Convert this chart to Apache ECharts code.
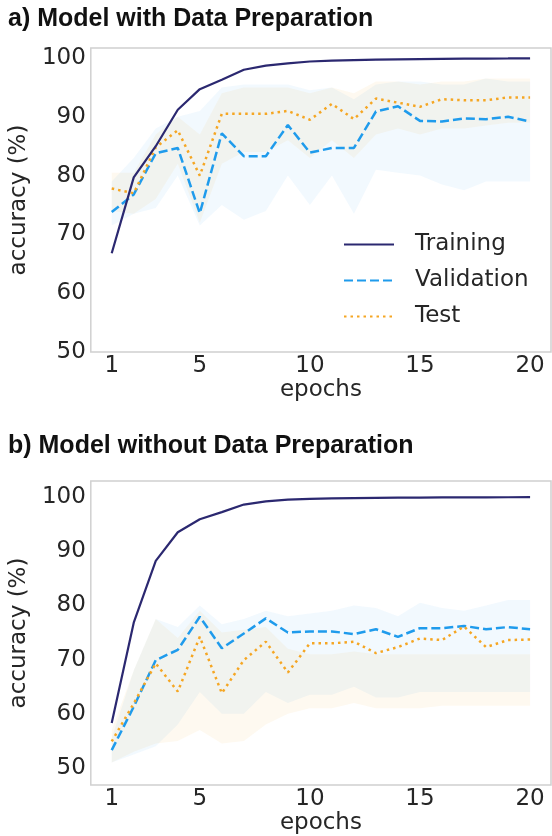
<!DOCTYPE html>
<html><head><meta charset="utf-8">
<script src="https://cdn.jsdelivr.net/npm/echarts@6/dist/echarts.min.js"></script>
<style>html,body{margin:0;padding:0;background:#fff}#c{width:552px;height:836px}</style>
</head><body><div id="c"></div>
<script>
const epochs = [1,2,3,4,5,6,7,8,9,10,11,12,13,14,15,16,17,18,19,20];
const xTicks = [1,5,10,15,20];
const yTicks = [50,60,70,80,90,100];

// Panel a) with data preparation
const trainA = [66.8,79.7,85.0,91.2,94.7,96.3,98.0,98.7,99.1,99.4,99.55,99.65,99.72,99.78,99.82,99.85,99.88,99.9,99.92,99.95];
const valA   = [73.8,76.8,83.8,84.7,73.6,87.2,83.3,83.3,88.6,83.9,84.7,84.7,90.9,91.8,89.3,89.2,89.7,89.6,90.0,89.2];
const testA  = [77.8,77.0,84.8,87.7,80.0,90.5,90.5,90.5,91.0,89.5,92.2,89.6,93.1,92.4,91.7,93.0,92.8,92.8,93.3,93.3];
const valALow  = [71.5,73.5,74.5,80,71.5,75,72.5,74,80,75,80,73.5,81,80.5,80,78.5,77.5,79,79,79];
const valAHigh = [79,83,88,90,91,95,95.5,95.5,95.5,94.5,95,93,95.5,96,96,95.5,95.5,96.5,96,96];
const testALow  = [74,73.5,76,82,72,82,84,84,86,83,86,83,87,88,87,88,88,88.5,89,89];
const testAHigh = [80.5,80.5,87,90,87,94,95,95,95,94,95,94,96,96,95.5,96,96,96.5,96.5,96.5];

// Panel b) without data preparation
const trainB = [58.3,76.8,88.2,93.5,95.9,97.2,98.6,99.2,99.5,99.65,99.75,99.8,99.85,99.88,99.9,99.92,99.93,99.94,99.95,99.96];
const valB   = [53.3,61.3,69.9,71.8,77.9,72.1,74.8,77.6,75.0,75.2,75.2,74.7,75.6,74.2,75.8,75.8,76.2,75.6,76.0,75.6];
const testB  = [54.9,61.9,69.3,64.1,74.2,63.8,69.9,73.3,67.6,73.0,73.0,73.3,71.2,72.3,73.9,73.6,76.1,72.3,73.6,73.7];
const valBLow  = [51,52.5,54,58,64,60,60,64,62,63.5,63.5,65,63,63,64,64,64,64,64,64];
const valBHigh = [55.5,68,77.5,76,80,76.5,77.5,79,78,78.5,79,80,79.5,78,80.5,79.5,79,80,81,81];
const testBLow  = [51,53,54.5,55,57,54.5,55,58,60,61,61,62,61,61,61,61.5,61.5,61.5,61.5,61.5];
const testBHigh = [57,68,77.5,74,79,75,75.5,76,72,71,71,71.5,71,71,71,71,71,71,71,71];

const C_TRAIN = '#2b2870', C_VAL = '#1f9bec', C_TEST = '#f5a623';
const pairs = ys => epochs.map((e,i) => [e, ys[i]]);
const tickFont = {fontFamily:'DejaVu Sans', fontSize:23, color:'#262626'};

function band(idx, lo, hi, color) {
  return {type:'custom', xAxisIndex:idx, yAxisIndex:idx, silent:true, z:1,
    data: epochs.map((e,i) => [e, lo[i], hi[i]]),
    encode:{x:0, y:[1,2]},
    renderItem: function(params, api) {
      if (params.dataIndex !== 0) return null;
      const pts = [];
      for (let i = 0; i < epochs.length; i++) pts.push(api.coord([epochs[i], hi[i]]));
      for (let i = epochs.length - 1; i >= 0; i--) pts.push(api.coord([epochs[i], lo[i]]));
      return {type:'polygon', shape:{points:pts}, style:{fill:color}};
    }};
}
function lines(idx, tr, va, te) {
  return [
    {type:'line', name:'Training', xAxisIndex:idx, yAxisIndex:idx, data:pairs(tr), symbol:'none',
     lineStyle:{color:C_TRAIN, width:2.2}, itemStyle:{color:C_TRAIN}, z:5},
    {type:'line', name:'Validation', xAxisIndex:idx, yAxisIndex:idx, data:pairs(va), symbol:'none',
     lineStyle:{color:C_VAL, width:2.5, type:[9,4]}, itemStyle:{color:C_VAL}, z:4},
    {type:'line', name:'Test', xAxisIndex:idx, yAxisIndex:idx, data:pairs(te), symbol:'none',
     lineStyle:{color:C_TEST, width:2.5, type:[2.5,4]}, itemStyle:{color:C_TEST}, z:4}
  ];
}
function xAxis(idx) {
  return {type:'value', gridIndex:idx, min:0.05, max:20.95,
    axisLine:{show:false}, axisTick:{show:false}, splitLine:{show:false},
    axisLabel:Object.assign({customValues:xTicks, margin:3}, tickFont),
    name:'epochs', nameLocation:'middle', nameGap:24, nameTextStyle:tickFont};
}
function yAxis(idx, mn, mx) {
  return {type:'value', gridIndex:idx, min:mn, max:mx,
    axisLine:{show:false}, axisTick:{show:false}, splitLine:{show:false},
    axisLabel:Object.assign({customValues:yTicks, margin:5}, tickFont),
    name:'accuracy (%)', nameLocation:'middle', nameGap:52, nameTextStyle:tickFont};
}

const BLUE_BAND = 'rgba(30,150,240,0.06)', ORANGE_BAND = 'rgba(245,166,35,0.065)';
const chart = echarts.init(document.getElementById('c'), null, {renderer:'canvas'});
chart.setOption({
  animation:false,
  backgroundColor:'#fff',
  title:[
    {text:'a) Model with Data Preparation', left:8, top:7, padding:0,
     textStyle:{fontFamily:'Liberation Sans', fontWeight:'bold', fontSize:25, color:'#111'}},
    {text:'b) Model without Data Preparation', left:8, top:434, padding:0,
     textStyle:{fontFamily:'Liberation Sans', fontWeight:'bold', fontSize:25, color:'#111'}}
  ],
  grid:[
    {left:83, top:48, width:468, height:304, show:true, borderColor:'#d0d0d0', borderWidth:1.5, backgroundColor:'transparent'},
    {left:83, top:481, width:468, height:304, show:true, borderColor:'#d0d0d0', borderWidth:1.5, backgroundColor:'transparent'}
  ],
  xAxis:[xAxis(0), xAxis(1)],
  yAxis:[yAxis(0, 50, 101.7), yAxis(1, 46.86, 102.95)],
  legend:{data:['Training','Validation','Test'], orient:'vertical', left:343, top:231,
    itemWidth:50, itemHeight:14, itemGap:9, padding:0,
    itemStyle:{opacity:0},
    textStyle:{fontFamily:'DejaVu Sans', fontSize:23, color:'#262626', lineHeight:27, padding:[0,0,0,16]}},
  series:[].concat(
    [band(0,valALow,valAHigh,BLUE_BAND),
     band(0,testALow,testAHigh,ORANGE_BAND)],
    lines(0,trainA,valA,testA),
    [band(1,valBLow,valBHigh,BLUE_BAND),
     band(1,testBLow,testBHigh,ORANGE_BAND)],
    lines(1,trainB,valB,testB)
  )
});
</script></body></html>
